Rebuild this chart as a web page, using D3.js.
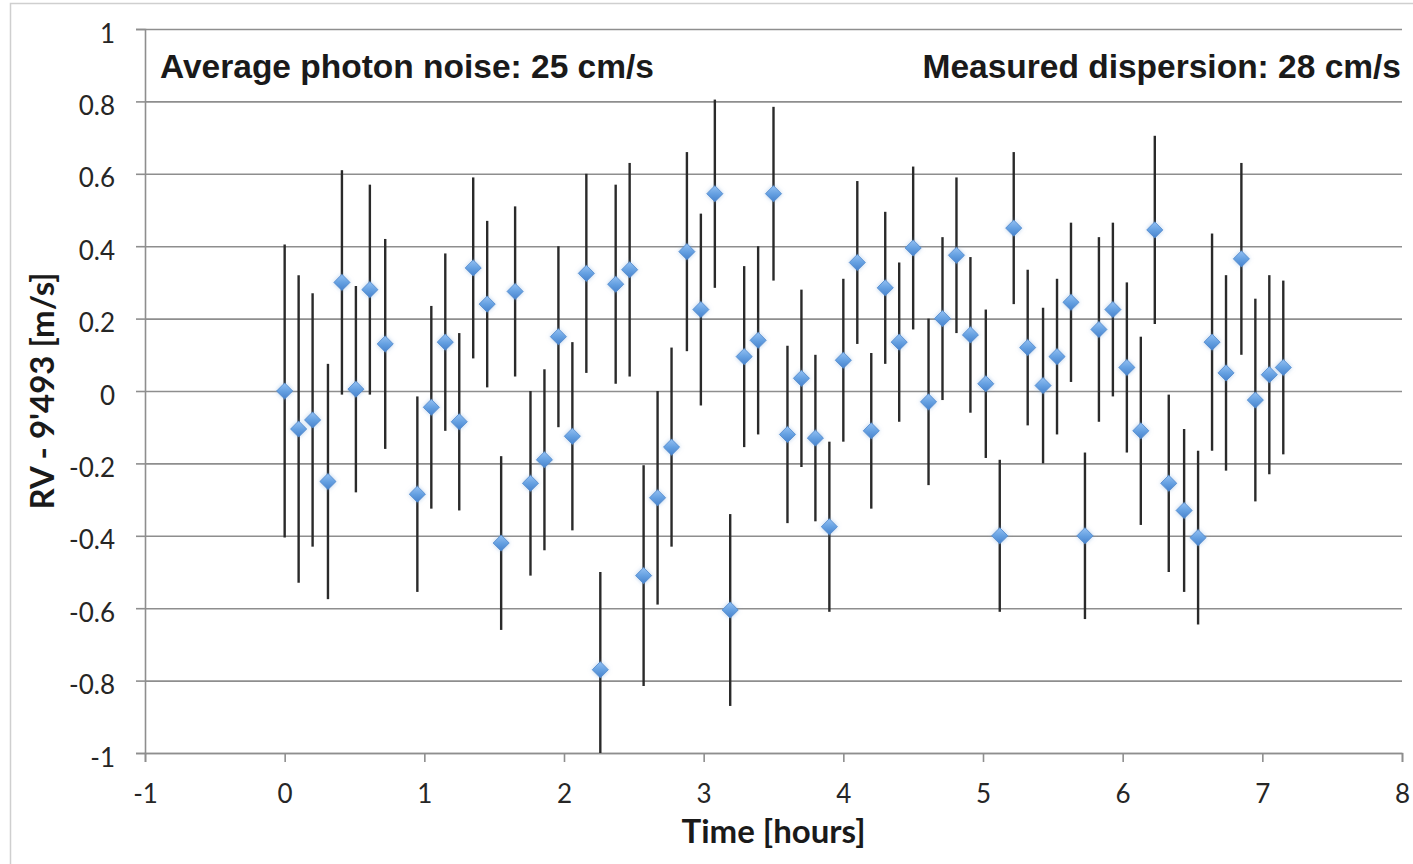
<!DOCTYPE html>
<html>
<head>
<meta charset="utf-8">
<style>
  body { margin: 0; background: #fff; }
  svg { display: block; }
</style>
</head>
<body>
<script src="https://cdn.jsdelivr.net/npm/d3@7"></script>
<script>
// data
var times = [0.00, 0.10, 0.20, 0.31, 0.41, 0.51, 0.61, 0.72, 0.95, 1.05,
             1.15, 1.25, 1.35, 1.45, 1.55, 1.65, 1.76, 1.86, 1.96, 2.06,
             2.16, 2.26, 2.37, 2.47, 2.57, 2.67, 2.77, 2.88, 2.98, 3.08,
             3.19, 3.29, 3.39, 3.50, 3.60, 3.70, 3.80, 3.90, 4.00, 4.10,
             4.20, 4.30, 4.40, 4.50, 4.61, 4.71, 4.81, 4.91, 5.02, 5.12,
             5.22, 5.32, 5.43, 5.53, 5.63, 5.73, 5.83, 5.93, 6.03, 6.13,
             6.23, 6.33, 6.44, 6.54, 6.64, 6.74, 6.85, 6.95, 7.05, 7.15];
var rv = [0.000, -0.105, -0.080, -0.250, 0.300, 0.005, 0.280, 0.130, -0.285, -0.045,
          0.135, -0.085, 0.340, 0.240, -0.420, 0.275, -0.255, -0.190, 0.150, -0.125,
          0.325, -0.770, 0.295, 0.335, -0.510, -0.295, -0.155, 0.385, 0.225, 0.545,
          -0.605, 0.095, 0.140, 0.545, -0.120, 0.035, -0.130, -0.375, 0.085, 0.355,
          -0.110, 0.285, 0.135, 0.395, -0.030, 0.200, 0.375, 0.155, 0.020, -0.400,
          0.450, 0.120, 0.015, 0.095, 0.245, -0.400, 0.170, 0.225, 0.065, -0.110,
          0.445, -0.255, -0.330, -0.405, 0.135, 0.050, 0.365, -0.025, 0.045, 0.065];
var err = [0.405, 0.425, 0.350, 0.325, 0.310, 0.285, 0.290, 0.290, 0.270, 0.280,
           0.245, 0.245, 0.250, 0.230, 0.240, 0.235, 0.255, 0.250, 0.250, 0.260,
           0.275, 0.270, 0.275, 0.295, 0.305, 0.295, 0.275, 0.275, 0.265, 0.260,
           0.265, 0.250, 0.260, 0.240, 0.245, 0.245, 0.230, 0.235, 0.225, 0.225,
           0.215, 0.210, 0.220, 0.225, 0.230, 0.225, 0.215, 0.215, 0.205, 0.210,
           0.210, 0.215, 0.215, 0.215, 0.220, 0.230, 0.255, 0.240, 0.235, 0.260,
           0.260, 0.245, 0.225, 0.240, 0.300, 0.270, 0.265, 0.280, 0.275, 0.240];
var xTicks = [-1, 0, 1, 2, 3, 4, 5, 6, 7, 8];
var yTicks = [-1, -0.8, -0.6, -0.4, -0.2, 0, 0.2, 0.4, 0.6, 0.8, 1];
var noteLeft = "Average photon noise: 25 cm/s";
var noteRight = "Measured dispersion: 28 cm/s";
var xTitle = "Time [hours]";
var yTitle = "RV - 9'493 [m/s]";

var W = 1413, H = 864;
var pL = 145, pR = 1402, pT = 29, pB = 753;

var x = d3.scaleLinear().domain([-1, 8]).range([pL, pR]);
var y = d3.scaleLinear().domain([-1, 1]).range([pB, pT]);

var svg = d3.select("body").append("svg")
    .attr("width", W).attr("height", H);

var defs = svg.append("defs");
var grad = defs.append("linearGradient").attr("id", "mk")
    .attr("x1", 0).attr("y1", 0).attr("x2", 0).attr("y2", 1);
grad.append("stop").attr("offset", "0%").attr("stop-color", "#93c0f2");
grad.append("stop").attr("offset", "50%").attr("stop-color", "#66a1e2");
grad.append("stop").attr("offset", "100%").attr("stop-color", "#4682cc");
var glow = defs.append("filter").attr("id", "glow")
    .attr("x", "-60%").attr("y", "-60%").attr("width", "220%").attr("height", "220%");
glow.append("feGaussianBlur").attr("in", "SourceAlpha").attr("stdDeviation", 2.2).attr("result", "b");
glow.append("feFlood").attr("flood-color", "#7aa6d8").attr("flood-opacity", 0.55);
glow.append("feComposite").attr("in2", "b").attr("operator", "in").attr("result", "s");
var mg = glow.append("feMerge");
mg.append("feMergeNode").attr("in", "s");
mg.append("feMergeNode").attr("in", "SourceGraphic");
defs.append("clipPath").attr("id", "plot").append("rect")
    .attr("x", pL).attr("y", pT).attr("width", pR - pL).attr("height", pB - pT);

// outer frame
svg.append("rect")
    .attr("x", 10.5).attr("y", 3.5).attr("width", W).attr("height", H)
    .attr("fill", "none").attr("stroke", "#cfcfcf").attr("stroke-width", 1.5);

// horizontal gridlines
var yGrid = d3.axisLeft(y).tickValues(yTicks)
    .tickSizeInner(-(pR - pL)).tickSizeOuter(0).tickFormat("");
var gGrid = svg.append("g").attr("transform", "translate(" + pL + ",0)").call(yGrid);
gGrid.select(".domain").remove();
gGrid.selectAll("line").attr("stroke", "#8e8e8e").attr("stroke-width", 1.6);

// y axis with stubs and labels
var yLab = d3.axisLeft(y).tickValues(yTicks).tickSize(9).tickPadding(21)
    .tickFormat(function(d) { return String(+d.toFixed(1)); });
var gY = svg.append("g").attr("transform", "translate(" + pL + ",0)").call(yLab);
gY.select(".domain").attr("stroke", "#8e8e8e").attr("stroke-width", 1.6);
gY.selectAll("line").attr("stroke", "#8e8e8e").attr("stroke-width", 1.6);
gY.selectAll("text")
    .attr("font-family", "Lato, sans-serif").attr("font-size", 26)
    .attr("fill", "#262626").attr("dy", "0.5em");

// x axis
var xAx = d3.axisBottom(x).tickValues(xTicks).tickSize(9).tickPadding(23)
    .tickFormat(function(d) { return String(d); });
var gX = svg.append("g").attr("transform", "translate(0," + pB + ")").call(xAx);
gX.select(".domain").attr("stroke", "#8e8e8e").attr("stroke-width", 1.6);
gX.selectAll("line").attr("stroke", "#8e8e8e").attr("stroke-width", 1.6);
gX.selectAll("text")
    .attr("font-family", "Lato, sans-serif").attr("font-size", 26)
    .attr("fill", "#262626");

// notes
svg.append("text").attr("x", 160).attr("y", 78).text(noteLeft)
    .attr("font-family", "Liberation Sans, Arial, sans-serif").attr("font-weight", "bold")
    .attr("font-size", 33.5).attr("fill", "#1a1a1a");
svg.append("text").attr("x", 1401).attr("y", 78).attr("text-anchor", "end").text(noteRight)
    .attr("font-family", "Liberation Sans, Arial, sans-serif").attr("font-weight", "bold")
    .attr("font-size", 33.5).attr("fill", "#1a1a1a");

// axis titles
svg.append("text").attr("x", (pL + pR) / 2).attr("y", 843)
    .attr("text-anchor", "middle").text(xTitle)
    .attr("font-family", "Lato, sans-serif").attr("font-weight", "bold")
    .attr("font-size", 33).attr("fill", "#1a1a1a");
svg.append("text")
    .attr("transform", "translate(54," + y(0) + ") rotate(-90)")
    .attr("text-anchor", "middle").text(yTitle)
    .attr("font-family", "Lato, sans-serif").attr("font-weight", "bold")
    .attr("font-size", 33).attr("fill", "#1a1a1a");

// data
var data = times.map(function(t, i) { return { t: t, v: rv[i], e: err[i] }; });
var gData = svg.append("g").attr("clip-path", "url(#plot)");

gData.selectAll("line.err").data(data).enter().append("line")
    .attr("class", "err")
    .attr("x1", function(d) { return x(d.t); })
    .attr("x2", function(d) { return x(d.t); })
    .attr("y1", function(d) { return y(d.v + d.e); })
    .attr("y2", function(d) { return y(d.v - d.e); })
    .attr("stroke", "#2a2a2a").attr("stroke-width", 2.4);

var diamond = d3.symbol().type(d3.symbolDiamond2).size(165);
svg.append("g").selectAll("path").data(data).enter().append("path")
    .attr("d", diamond)
    .attr("transform", function(d) { return "translate(" + x(d.t) + "," + y(d.v) + ")"; })
    .attr("fill", "url(#mk)")
    .attr("stroke", "#4d86cc").attr("stroke-width", 0.8)
    .attr("filter", "url(#glow)");
</script>
</body>
</html>
